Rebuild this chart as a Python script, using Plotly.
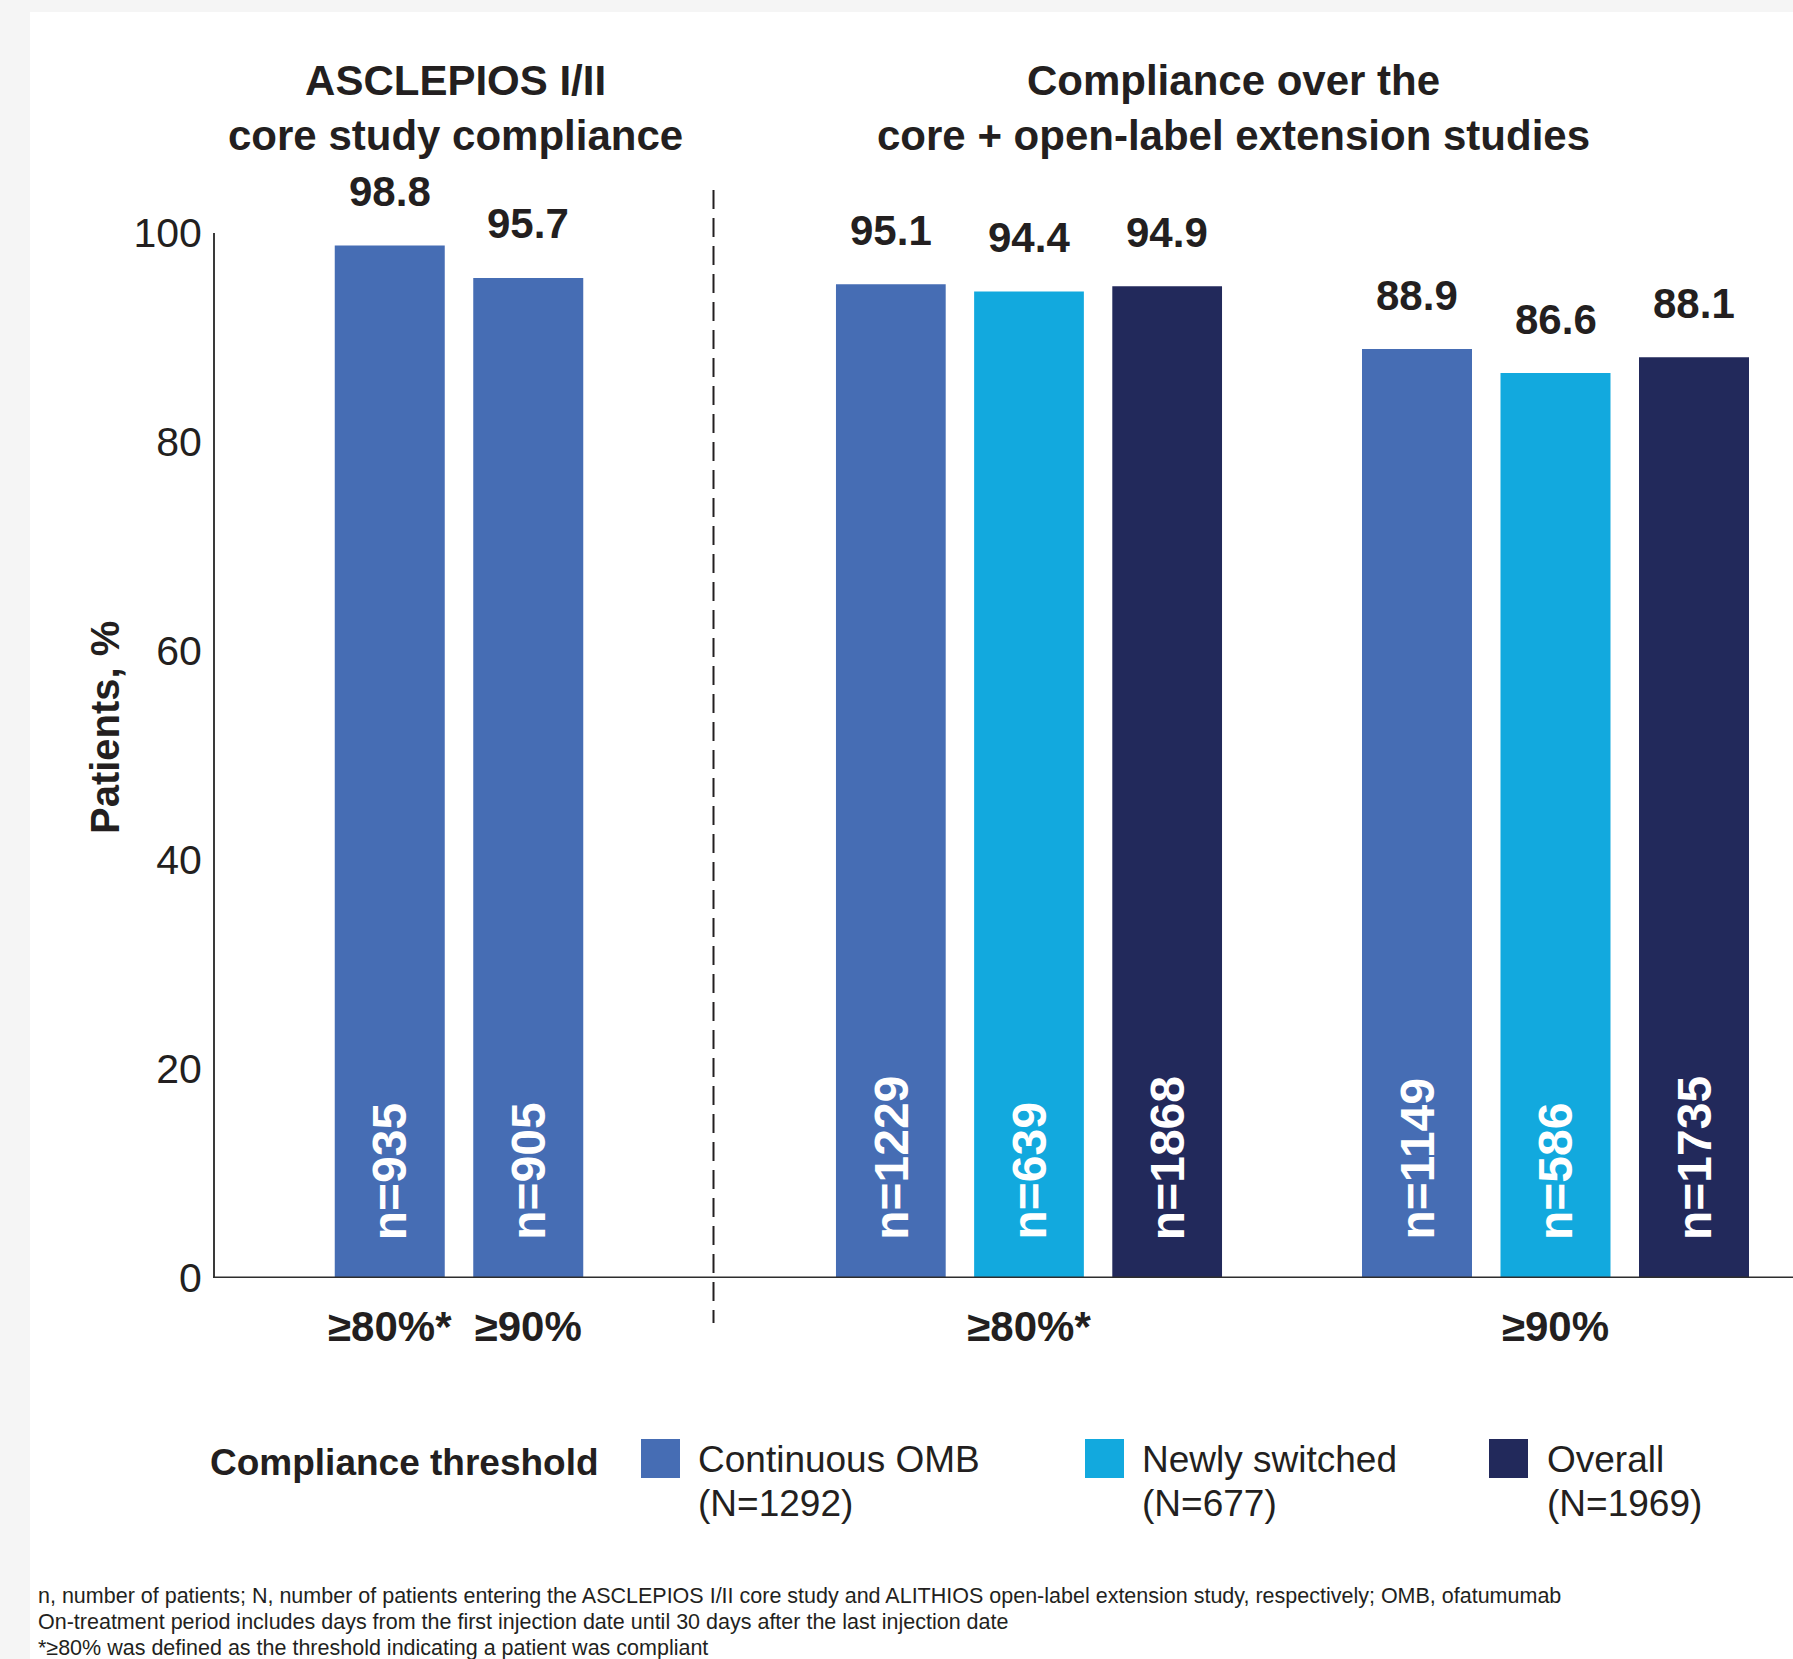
import plotly.graph_objects as go

W, H = 1793, 1659

# ---------------- data ----------------
core_thresholds = ["≥80%*", "≥90%"]
core_values = [98.8, 95.7]
core_n = [935, 905]

series_names = ["Continuous OMB", "Newly switched", "Overall"]
series_N = [1292, 677, 1969]

ext_thresholds = ["≥80%*", "≥90%"]
ext80_values = [95.1, 94.4, 94.9]
ext80_n = [1229, 639, 1868]
ext90_values = [88.9, 86.6, 88.1]
ext90_n = [1149, 586, 1735]

y_ticks = [0, 20, 40, 60, 80, 100]

core_title = "ASCLEPIOS I/II<br>core study compliance"
ext_title = "Compliance over the<br>core + open-label extension studies"
y_title = "Patients, %"
legend_title = "Compliance threshold"
footnotes = [
    "n, number of patients; N, number of patients entering the ASCLEPIOS I/II core study and ALITHIOS open-label extension study, respectively; OMB, ofatumumab",
    "On-treatment period includes days from the first injection date until 30 days after the last injection date",
    "*≥80% was defined as the threshold indicating a patient was compliant",
]

# ---------------- style ----------------
FONT = "Liberation Sans, Arial, Helvetica, sans-serif"
TXT = "#231f20"
series_colors = ["#466db4", "#12a9de", "#22295b"]


def px(x):
    return x / W


def py(y):
    return 1 - y / H


fig = go.Figure()

fig.add_trace(go.Bar(x=core_thresholds, y=core_values, xaxis="x", yaxis="y",
                     marker=dict(color=series_colors[0], line=dict(width=0)),
                     showlegend=False, hoverinfo="skip"))
fig.add_trace(go.Bar(x=series_names, y=ext80_values, xaxis="x2", yaxis="y",
                     marker=dict(color=series_colors, line=dict(width=0)),
                     showlegend=False, hoverinfo="skip"))
fig.add_trace(go.Bar(x=series_names, y=ext90_values, xaxis="x3", yaxis="y",
                     marker=dict(color=series_colors, line=dict(width=0)),
                     showlegend=False, hoverinfo="skip"))

annotations = []


def bar_labels(xref, cats, vals, ns):
    for c, v, n in zip(cats, vals, ns):
        annotations.append(dict(
            x=c, y=v, xref=xref, yref="y", text=f"{v:.1f}", showarrow=False,
            yanchor="middle", yshift=54,
            font=dict(family=FONT, size=42, color=TXT, weight="bold")))
        annotations.append(dict(
            x=c, y=0, xref=xref, yref="y", text=f"n={n}", showarrow=False,
            textangle=-90, yanchor="bottom", yshift=36,
            font=dict(family=FONT, size=48, color="white", weight="bold")))


bar_labels("x", core_thresholds, core_values, core_n)
bar_labels("x2", series_names, ext80_values, ext80_n)
bar_labels("x3", series_names, ext90_values, ext90_n)

# titles
annotations.append(dict(x=px(456), y=py(108), xref="paper", yref="paper", text=core_title,
                        showarrow=False, xanchor="center", yanchor="middle",
                        font=dict(family=FONT, size=42, color=TXT, weight="bold")))
annotations.append(dict(x=px(1233), y=py(108), xref="paper", yref="paper", text=ext_title,
                        showarrow=False, xanchor="center", yanchor="middle",
                        font=dict(family=FONT, size=42, color=TXT, weight="bold")))
# y-axis title
annotations.append(dict(x=px(105), y=py(728), xref="paper", yref="paper", text=y_title,
                        showarrow=False, textangle=-90, xanchor="center", yanchor="middle",
                        font=dict(family=FONT, size=40, color=TXT, weight="bold")))

# custom legend
annotations.append(dict(x=px(208), y=py(1462), xref="paper", yref="paper", text=legend_title,
                        showarrow=False, xanchor="left", yanchor="middle",
                        font=dict(family=FONT, size=37, color=TXT, weight="bold")))
legend_square_x = [641, 1085, 1489]
legend_text_x = [696, 1140, 1545]
shapes = []
for name, N, col, sx, tx in zip(series_names, series_N, series_colors, legend_square_x, legend_text_x):
    shapes.append(dict(type="rect", xref="paper", yref="paper",
                       x0=px(sx), x1=px(sx + 39), y0=py(1478), y1=py(1439),
                       fillcolor=col, line=dict(width=0)))
    annotations.append(dict(x=px(tx), y=py(1459), xref="paper", yref="paper", text=name,
                            showarrow=False, xanchor="left", yanchor="middle",
                            font=dict(family=FONT, size=37, color=TXT)))
    annotations.append(dict(x=px(tx), y=py(1503), xref="paper", yref="paper", text=f"(N={N})",
                            showarrow=False, xanchor="left", yanchor="middle",
                            font=dict(family=FONT, size=37, color=TXT)))

# footnotes
for i, t in enumerate(footnotes):
    annotations.append(dict(x=px(36), y=py(1596 + 26 * i), xref="paper", yref="paper", text=t,
                            showarrow=False, xanchor="left", yanchor="middle",
                            font=dict(family=FONT, size=21.5, color=TXT)))

# background panel, baseline, divider
shapes.insert(0, dict(type="rect", xref="paper", yref="paper", x0=px(30), x1=1, y0=0, y1=py(12),
                      fillcolor="white", line=dict(width=0), layer="below"))
shapes.append(dict(type="line", xref="paper", yref="y", x0=px(213), x1=1, y0=0, y1=0,
                   line=dict(color="#2d2d2d", width=3), layer="above"))
shapes.append(dict(type="line", xref="paper", yref="paper", x0=px(713.5), x1=px(713.5),
                   y0=py(190), y1=py(1323), line=dict(color=TXT, width=2, dash="19px,9px")))

xcommon = dict(type="category", anchor="y", showline=False, showgrid=False, zeroline=False,
               ticks="", ticklabelstandoff=20, fixedrange=True, automargin=False,
               tickfont=dict(family=FONT, size=42, color=TXT, weight="bold"))

fig.update_layout(
    width=W, height=H, autosize=False,
    margin=dict(l=0, r=0, t=0, b=0, pad=0, autoexpand=False),
    paper_bgcolor="#f5f5f5", plot_bgcolor="rgba(0,0,0,0)",
    bargap=1 - 110 / 138.5,
    barmode="group",
    showlegend=False,
    xaxis=dict(domain=[px(320.5), px(597.5)], **xcommon),
    xaxis2=dict(domain=[px(821.75), px(1236.25)], tickvals=[series_names[1]],
                ticktext=[ext_thresholds[0]], **xcommon),
    xaxis3=dict(domain=[px(1347.75), px(1763.25)], tickvals=[series_names[1]],
                ticktext=[ext_thresholds[1]], **xcommon),
    yaxis=dict(domain=[py(1278), py(233)], range=[0, 100], anchor="free", position=px(214),
               tickvals=y_ticks, ticks="", showline=True, linecolor="#3a3a3a", linewidth=2,
               showgrid=False, zeroline=False, ticklabelstandoff=3, fixedrange=True,
               automargin=False,
               tickfont=dict(family=FONT, size=41, color=TXT)),
    annotations=annotations,
    shapes=shapes,
)

fig.write_html("out.html")
